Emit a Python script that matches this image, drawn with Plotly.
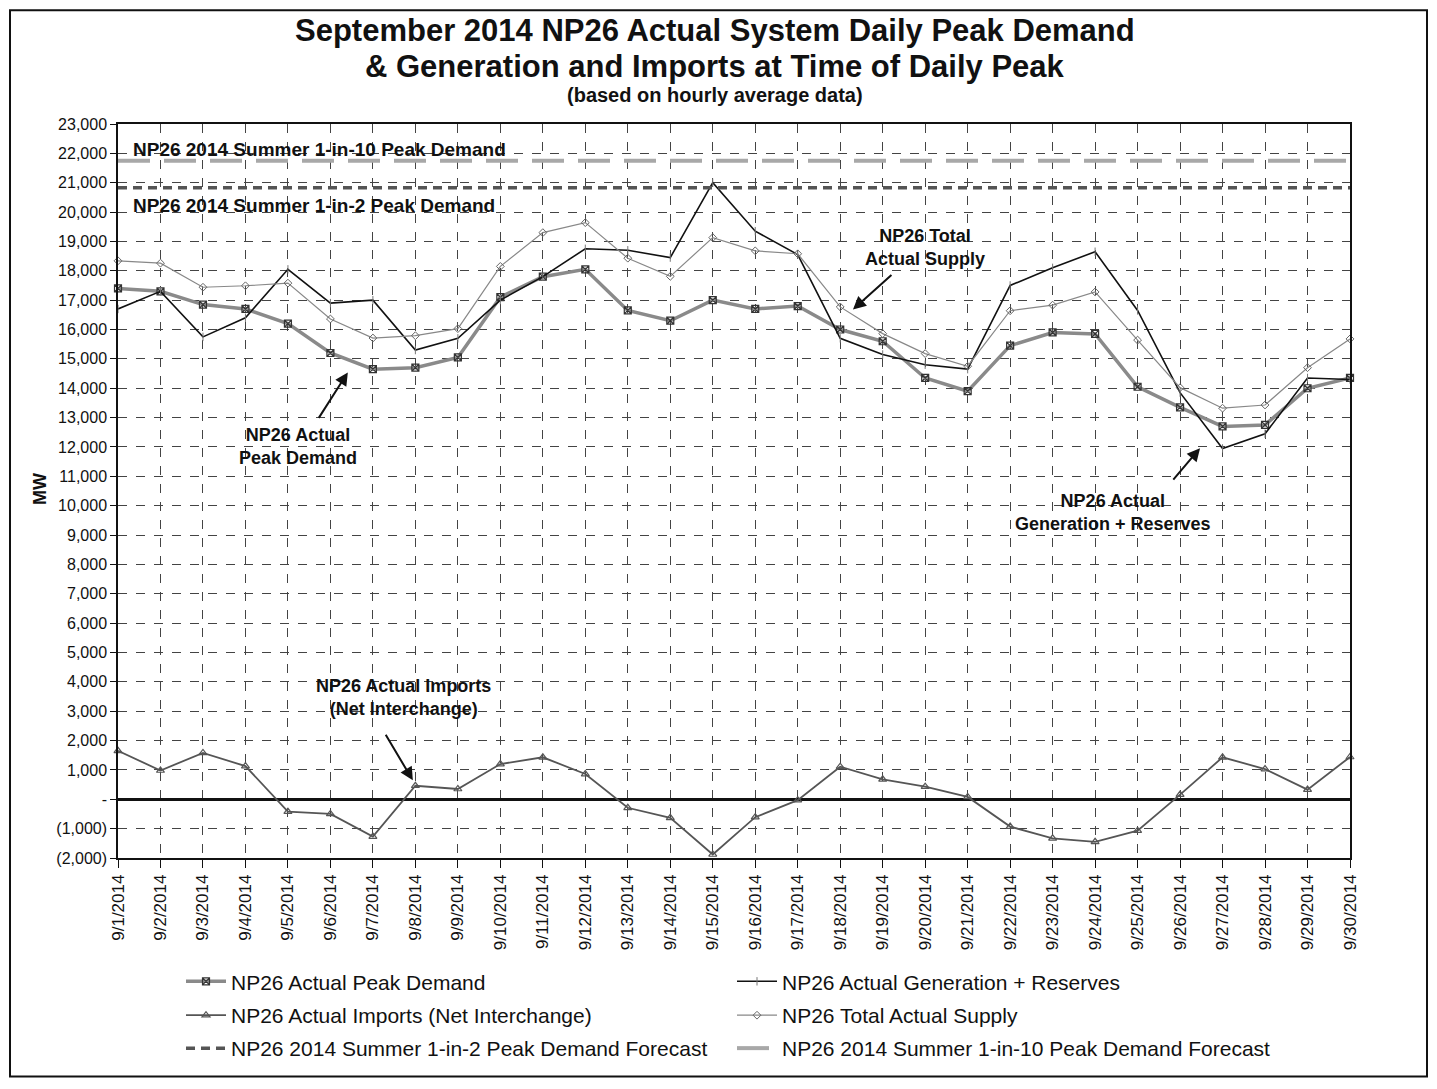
import plotly.graph_objects as go

dates = ["9/1/2014", "9/2/2014", "9/3/2014", "9/4/2014", "9/5/2014", "9/6/2014",
         "9/7/2014", "9/8/2014", "9/9/2014", "9/10/2014", "9/11/2014", "9/12/2014",
         "9/13/2014", "9/14/2014", "9/15/2014", "9/16/2014", "9/17/2014", "9/18/2014",
         "9/19/2014", "9/20/2014", "9/21/2014", "9/22/2014", "9/23/2014", "9/24/2014",
         "9/25/2014", "9/26/2014", "9/27/2014", "9/28/2014", "9/29/2014", "9/30/2014"]

peak_demand = [17400, 17300, 16850, 16700, 16200, 15200, 14650, 14700, 15050, 17100,
               17800, 18050, 16650, 16300, 17000, 16700, 16800, 16000, 15600, 14350,
               13900, 15450, 15900, 15850, 14050, 13350, 12700, 12750, 14000, 14350]

gen_reserves = [16700, 17300, 15750, 16400, 18050, 16900, 17000, 15300, 15700, 17000,
                17800, 18750, 18700, 18450, 21000, 19350, 18550, 15700, 15150, 14800,
                14650, 17500, 18100, 18650, 16650, 13850, 11950, 12450, 14350, 14300]

imports = [1650, 980, 1580, 1130, -420, -500, -1270, 460, 350, 1200,
           1430, 860, -290, -630, -1880, -610, -30, 1110, 680, 430,
           80, -930, -1330, -1450, -1070, 160, 1430, 1030, 330, 1440]

total_supply = [18340, 18260, 17440, 17490, 17580, 16360, 15710, 15790, 16030, 18150,
                19300, 19640, 18430, 17810, 19130, 18680, 18580, 16770, 15860, 15180,
                14750, 16640, 16830, 17280, 15640, 14020, 13320, 13430, 14700, 15680]

forecast_1in2 = 20830
forecast_1in10 = 21750

y_tickvals = [23000, 22000, 21000, 20000, 19000, 18000, 17000, 16000, 15000, 14000,
              13000, 12000, 11000, 10000, 9000, 8000, 7000, 6000, 5000, 4000,
              3000, 2000, 1000, 0, -1000, -2000]
y_ticktext = ["23,000", "22,000", "21,000", "20,000", "19,000", "18,000", "17,000",
              "16,000", "15,000", "14,000", "13,000", "12,000", "11,000", "10,000",
              "9,000", "8,000", "7,000", "6,000", "5,000", "4,000", "3,000", "2,000",
              "1,000", "-", "(1,000)", "(2,000)"]

FONT = "Liberation Sans, Arial, sans-serif"

fig = go.Figure()

fig.add_trace(go.Scatter(
    x=dates, y=peak_demand, name="NP26 Actual Peak Demand", mode="lines+markers",
    line=dict(color="#8a8a8a", width=3.5),
    marker=dict(symbol="square-x-open", size=7, color="#333333", line=dict(width=1.2)),
    cliponaxis=False, legend="legend"))
fig.add_trace(go.Scatter(
    x=dates, y=gen_reserves, name="NP26 Actual Generation + Reserves", mode="lines+markers",
    line=dict(color="#111111", width=1.6),
    marker=dict(symbol="line-ns-open", size=6, color="#777777", line=dict(width=1)),
    cliponaxis=False, legend="legend"))
fig.add_trace(go.Scatter(
    x=dates, y=imports, name="NP26 Actual Imports (Net Interchange)", mode="lines+markers",
    line=dict(color="#555555", width=1.8),
    marker=dict(symbol="triangle-up-open", size=7, color="#555555", line=dict(width=1.2)),
    cliponaxis=False, legend="legend2"))
fig.add_trace(go.Scatter(
    x=dates, y=total_supply, name="NP26 Total Actual Supply", mode="lines+markers",
    line=dict(color="#888888", width=1.2),
    marker=dict(symbol="diamond-open", size=6, color="#666666", line=dict(width=1)),
    cliponaxis=False, legend="legend2"))
fig.add_trace(go.Scatter(
    x=[dates[0], dates[-1]], y=[forecast_1in2, forecast_1in2],
    name="NP26 2014 Summer 1-in-2 Peak Demand Forecast", mode="lines",
    line=dict(color="#555555", width=3.5, dash="9px,6px"), legend="legend3"))
fig.add_trace(go.Scatter(
    x=[dates[0], dates[-1]], y=[forecast_1in10, forecast_1in10],
    name="NP26 2014 Summer 1-in-10 Peak Demand Forecast", mode="lines",
    line=dict(color="#a8a8a8", width=4, dash="32px,14px"), legend="legend3"))

# page offset of the figure (body margin) and target pixel positions
OFF = 8
PL, PR, PT, PB = 118, 1350, 124, 860          # plot area in page pixels
W, H = 1437 - 2 * OFF, 1089 - 2 * OFF
def px(xp):
    return (xp - PL) / (PR - PL)
def py(yp):
    return (PB - yp) / (PB - PT)

annotations = [
    dict(text="<b>September 2014 NP26 Actual System Daily Peak Demand</b>", x=px(715), y=py(30),
         font=dict(size=31)),
    dict(text="<b>&amp; Generation and Imports at Time of Daily Peak</b>", x=px(715), y=py(66),
         font=dict(size=31)),
    dict(text="<b>(based on hourly average data)</b>", x=px(715), y=py(95), font=dict(size=20)),
    dict(text="<b>MW</b>", x=px(40), y=py(490), textangle=-90, font=dict(size=18)),
    dict(text="<b>NP26 2014 Summer 1-in-10 Peak Demand</b>", x=px(131), y=py(150),
         xanchor="left", font=dict(size=19)),
    dict(text="<b>NP26 2014 Summer 1-in-2 Peak Demand</b>", x=px(131), y=py(206),
         xanchor="left", font=dict(size=19)),
]
for a in annotations:
    a.setdefault("xref", "paper")
    a.setdefault("yref", "paper")
    a.setdefault("showarrow", False)
    a.setdefault("xanchor", "center")
    a.setdefault("yanchor", "middle")

data_labels = [
    ("<b>NP26 Actual<br>Peak Demand</b>", 4.24, 12000),
    ("<b>NP26 Total<br>Actual Supply</b>", 19.0, 18780),
    ("<b>NP26 Actual Imports<br>(Net Interchange)</b>", 6.73, 3460),
    ("<b>NP26 Actual<br>Generation + Reserves</b>", 23.42, 9780),
]
for t, xx, yy in data_labels:
    annotations.append(dict(text=t, x=xx, y=yy, xref="x", yref="y", showarrow=False,
                            font=dict(size=18), align="center"))

arrows = [
    (5.41, 14540, -30, 47),
    (17.3, 16680, 40, -36),
    (6.94, 645, -28, -47),
    (25.47, 11960, -28, 33),
]
for xx, yy, ax, ay in arrows:
    annotations.append(dict(text="", x=xx, y=yy, xref="x", yref="y", showarrow=True,
                            ax=ax, ay=ay, arrowhead=2, arrowsize=1.3, arrowwidth=2,
                            arrowcolor="#111111"))

def legend_row(ycenter):
    return dict(orientation="h", x=px(181), y=py(ycenter), xanchor="left", yanchor="middle",
                entrywidth=496, entrywidthmode="pixels", font=dict(size=21),
                bgcolor="rgba(0,0,0,0)", itemwidth=40)

fig.update_layout(
    width=W, height=H,
    margin=dict(l=PL - OFF, r=W - (PR - OFF), t=PT - OFF, b=H - (PB - OFF)),
    paper_bgcolor="white", plot_bgcolor="white",
    font=dict(family=FONT, color="#111111"),
    annotations=annotations,
    showlegend=True,
    legend=legend_row(984),
    legend2=legend_row(1018),
    legend3=legend_row(1051),
    shapes=[dict(type="rect", xref="paper", yref="paper",
                 x0=px(10), x1=px(1427), y0=py(1079), y1=py(10),
                 line=dict(color="#111111", width=2))],
)

fig.update_xaxes(
    type="category", categoryorder="array", categoryarray=dates,
    range=[0, 29], tickangle=-90, tickfont=dict(size=17),
    showgrid=True, gridcolor="#444444", gridwidth=1, griddash="dash",
    showline=True, linecolor="#111111", linewidth=1.5, mirror=True,
    ticks="outside", ticklen=8, tickcolor="#111111", zeroline=False)

fig.update_yaxes(
    range=[-2000, 23000], tickvals=y_tickvals, ticktext=y_ticktext,
    tickfont=dict(size=16),
    showgrid=True, gridcolor="#444444", gridwidth=1, griddash="dash",
    showline=True, linecolor="#111111", linewidth=1.5, mirror=True,
    ticks="outside", ticklen=6, tickcolor="#111111",
    zeroline=True, zerolinecolor="#111111", zerolinewidth=2.5)

fig.write_html("out.html")
